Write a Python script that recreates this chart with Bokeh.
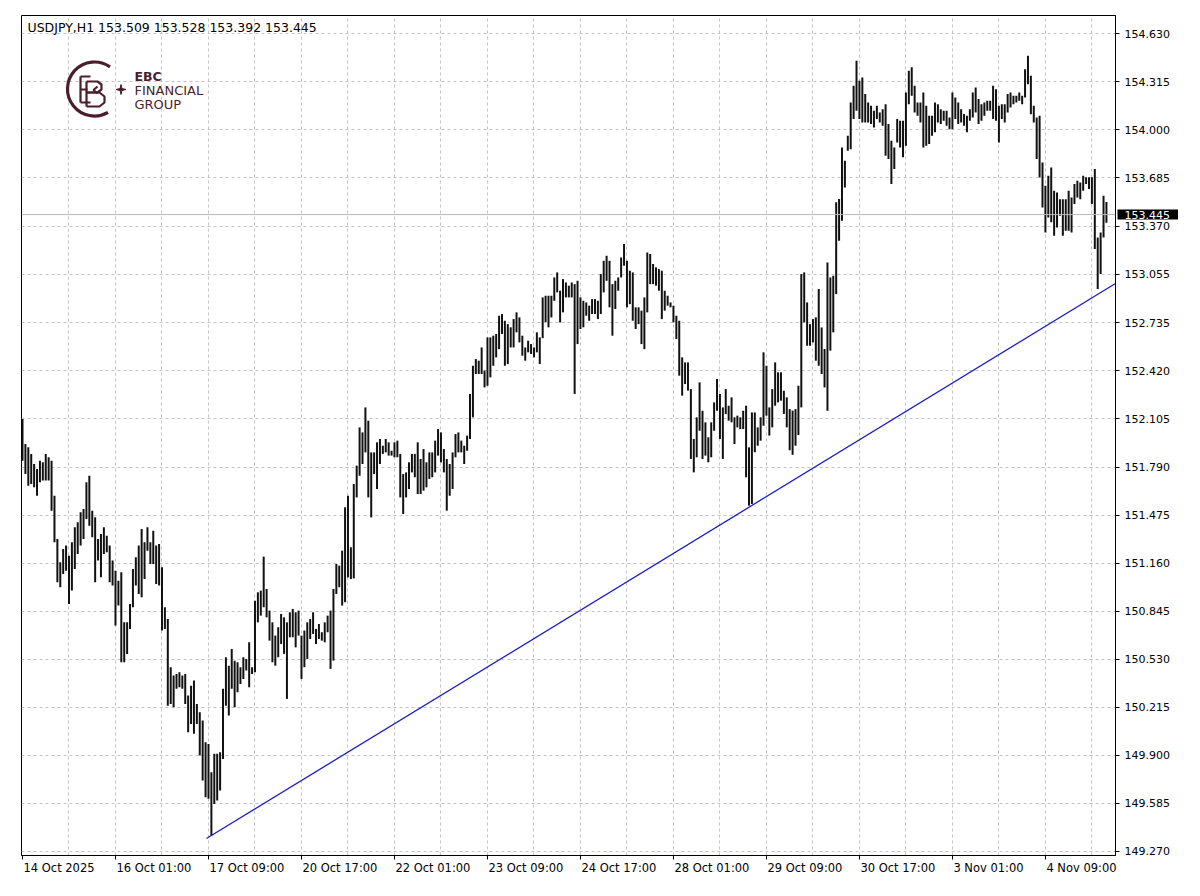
import math
from bokeh.plotting import figure
from bokeh.models import FixedTicker, Span, Range1d, ColumnDataSource, NumeralTickFormatter, LinearAxis, Label
from bokeh.embed import file_html
from bokeh.resources import INLINE
from bokeh.core.properties import value

# ---------------- data ----------------
symbol = "USDJPY,H1"
last_ohlc = [153.509, 153.528, 153.392, 153.445]
current_price = 153.445

highs = [
    152.105, 151.941, 151.919, 151.876, 151.810, 151.777, 151.832, 151.821, 151.876, 151.854,
    151.832, 151.602, 151.318, 151.166, 151.253, 151.275, 151.209, 151.297, 151.395, 151.428,
    151.493, 151.515, 151.690, 151.733, 151.504, 151.461, 151.318, 151.351, 151.395, 151.340,
    151.275, 151.177, 151.111, 151.045, 151.100, 150.772, 150.772, 150.893, 151.122, 151.198,
    151.275, 151.384, 151.297, 151.395, 151.297, 151.373, 151.275, 151.286, 151.133, 150.871,
    150.794, 150.478, 150.423, 150.434, 150.445, 150.423, 150.434, 150.292, 150.357, 150.390,
    150.237, 150.183, 150.128, 149.986, 149.975, 149.789, 149.910, 149.910, 149.921, 150.336,
    150.543, 150.488, 150.598, 150.521, 150.510, 150.477, 150.543, 150.532, 150.641, 150.477,
    150.914, 150.969, 150.980, 151.203, 150.991, 150.849, 150.772, 150.685, 150.740, 150.827,
    150.805, 150.772, 150.838, 150.860, 150.838, 150.849, 150.685, 150.718, 150.772, 150.794,
    150.838, 150.729, 150.761, 150.707, 150.772, 150.816, 150.849, 150.991, 151.155, 151.144,
    151.242, 151.526, 151.602, 151.264, 151.679, 151.799, 152.050, 152.017, 152.181, 152.094,
    151.886, 151.886, 151.952, 151.974, 151.930, 151.974, 151.952, 151.897, 151.952, 151.963,
    151.876, 151.744, 151.755, 151.821, 151.876, 151.876, 151.952, 151.843, 151.908, 151.821,
    151.886, 151.886, 151.963, 152.039, 152.017, 151.908, 151.843, 151.810, 151.886, 152.006,
    152.017, 151.963, 151.930, 151.996, 152.269, 152.454, 152.498, 152.487, 152.574, 152.422,
    152.640, 152.640, 152.651, 152.662, 152.782, 152.793, 152.749, 152.727, 152.706, 152.760,
    152.804, 152.771, 152.651, 152.574, 152.618, 152.596, 152.574, 152.673, 152.640, 152.902,
    152.913, 152.913, 152.913, 153.033, 153.066, 152.946, 153.022, 153.000, 152.979, 153.000,
    152.989, 153.011, 152.902, 152.880, 152.869, 152.848, 152.891, 152.891, 152.880, 153.055,
    153.142, 153.175, 153.142, 152.989, 153.011, 153.033, 153.164, 153.252, 153.142, 153.077,
    153.066, 152.837, 152.837, 152.815, 152.902, 153.197, 153.186, 153.121, 153.099, 153.088,
    153.077, 152.946, 152.913, 152.869, 152.848, 152.782, 152.749, 152.509, 152.476, 152.476,
    152.301, 151.974, 152.116, 152.345, 152.159, 152.083, 151.985, 152.083, 152.214, 152.367,
    152.269, 152.181, 152.301, 152.192, 152.247, 152.116, 152.127, 152.116, 152.159, 152.192,
    151.919, 152.148, 152.148, 152.050, 152.116, 152.542, 152.454, 152.181, 152.301, 152.476,
    152.411, 152.411, 152.290, 152.247, 152.170, 152.160, 152.170, 152.323, 153.055, 153.066,
    152.869, 152.727, 152.760, 152.771, 152.957, 152.705, 152.564, 153.131, 153.033, 153.044,
    153.525, 153.547, 153.885, 153.798, 153.962, 154.180, 154.289, 154.453, 154.322, 154.344,
    154.235, 154.180, 154.158, 154.125, 154.158, 154.114, 154.136, 154.169, 154.038, 153.929,
    153.885, 154.071, 154.060, 154.060, 154.246, 154.388, 154.410, 154.289, 154.180, 154.180,
    154.246, 154.158, 154.093, 154.093, 154.180, 154.169, 154.136, 154.125, 154.125, 154.082,
    154.246, 154.213, 154.180, 154.136, 154.104, 154.093, 154.136, 154.246, 154.278, 154.202,
    154.169, 154.180, 154.191, 154.191, 154.289, 154.267, 154.158, 154.169, 154.169, 154.235,
    154.246, 154.224, 154.224, 154.246, 154.224, 154.398, 154.486, 154.355, 154.158, 154.082,
    154.093, 153.787, 153.634, 153.699, 153.754, 153.601, 153.590, 153.546, 153.546, 153.546,
    153.601, 153.557, 153.645, 153.667, 153.656, 153.699, 153.689, 153.689, 153.689, 153.743,
    153.295, 153.328, 153.568, 153.528,
]

lows = [
    151.832, 151.744, 151.668, 151.679, 151.657, 151.602, 151.690, 151.701, 151.701, 151.701,
    151.504, 151.297, 151.035, 151.002, 151.089, 151.111, 150.893, 150.980, 151.122, 151.220,
    151.275, 151.318, 151.450, 151.406, 151.329, 151.035, 151.177, 151.067, 151.220, 151.231,
    151.035, 151.013, 150.751, 150.882, 150.510, 150.510, 150.565, 150.729, 150.871, 151.013,
    150.958, 150.936, 151.056, 151.242, 151.155, 151.155, 151.024, 151.013, 150.718, 150.729,
    150.226, 150.237, 150.215, 150.336, 150.346, 150.336, 150.237, 150.052, 150.106, 150.041,
    150.106, 149.899, 149.735, 149.626, 149.615, 149.374, 149.582, 149.604, 149.669, 149.877,
    150.226, 150.161, 150.336, 150.215, 150.314, 150.368, 150.401, 150.456, 150.346, 150.434,
    150.445, 150.772, 150.816, 150.871, 150.805, 150.652, 150.510, 150.488, 150.543, 150.630,
    150.565, 150.270, 150.674, 150.674, 150.608, 150.685, 150.401, 150.478, 150.532, 150.663,
    150.696, 150.630, 150.663, 150.652, 150.641, 150.707, 150.467, 150.521, 150.958, 151.002,
    150.882, 150.904, 151.067, 151.056, 151.060, 151.591, 151.733, 151.810, 151.886, 151.591,
    151.460, 151.744, 151.646, 151.810, 151.876, 151.886, 151.865, 151.865, 151.854, 151.854,
    151.591, 151.482, 151.591, 151.646, 151.755, 151.723, 151.613, 151.613, 151.635, 151.657,
    151.712, 151.723, 151.755, 151.865, 151.821, 151.755, 151.504, 151.602, 151.646, 151.854,
    151.886, 151.886, 151.810, 151.897, 151.974, 152.116, 152.400, 152.400, 152.400, 152.312,
    152.323, 152.378, 152.454, 152.509, 152.563, 152.662, 152.454, 152.465, 152.574, 152.574,
    152.673, 152.607, 152.520, 152.487, 152.542, 152.531, 152.509, 152.542, 152.465, 152.635,
    152.740, 152.706, 152.771, 152.880, 152.935, 152.738, 152.804, 152.902, 152.902, 152.902,
    152.269, 152.596, 152.695, 152.706, 152.782, 152.749, 152.793, 152.793, 152.760, 152.793,
    152.935, 153.011, 152.837, 152.651, 152.826, 152.946, 153.033, 153.110, 152.837, 152.858,
    152.749, 152.695, 152.727, 152.596, 152.563, 152.804, 152.989, 152.989, 152.979, 152.946,
    152.760, 152.815, 152.848, 152.837, 152.738, 152.629, 152.389, 152.258, 152.334, 152.291,
    151.843, 151.755, 151.854, 152.028, 151.843, 151.865, 151.821, 151.854, 152.028, 152.159,
    151.974, 151.843, 152.137, 152.094, 152.083, 151.941, 152.050, 152.039, 152.039, 151.723,
    151.537, 151.548, 151.887, 151.930, 151.963, 152.061, 152.127, 151.996, 152.050, 152.192,
    152.214, 152.225, 152.138, 152.050, 151.900, 151.870, 151.930, 152.000, 152.181, 152.738,
    152.585, 152.585, 152.607, 152.487, 152.454, 152.400, 152.312, 152.159, 152.553, 152.673,
    152.924, 153.273, 153.404, 153.623, 153.863, 153.874, 154.071, 154.125, 154.071, 154.049,
    154.049, 154.049, 154.038, 154.016, 154.071, 154.049, 154.027, 153.830, 153.809, 153.645,
    153.743, 153.918, 153.885, 153.820, 153.896, 154.169, 154.224, 154.114, 154.093, 154.049,
    153.885, 153.896, 153.907, 153.962, 153.984, 154.049, 154.038, 154.060, 154.027, 154.005,
    154.005, 154.071, 154.038, 154.049, 154.027, 153.984, 154.060, 154.082, 154.114, 154.038,
    154.060, 154.093, 154.125, 154.125, 154.071, 154.060, 153.918, 154.071, 154.049, 154.114,
    154.147, 154.169, 154.180, 154.191, 154.169, 154.213, 154.300, 154.103, 154.049, 153.809,
    153.688, 153.492, 153.328, 153.426, 153.394, 153.306, 153.361, 153.437, 153.306, 153.339,
    153.339, 153.328, 153.514, 153.557, 153.546, 153.601, 153.645, 153.612, 153.514, 153.219,
    152.957, 153.055, 153.295, 153.392,
]

x_labels = ["14 Oct 2025", "16 Oct 01:00", "17 Oct 09:00", "20 Oct 17:00", "22 Oct 01:00",
            "23 Oct 09:00", "24 Oct 17:00", "28 Oct 01:00", "29 Oct 09:00", "30 Oct 17:00",
            "3 Nov 01:00", "4 Nov 09:00"]
bars_per_label = 32

y_ticks = [149.270, 149.585, 149.900, 150.215, 150.530, 150.845, 151.160, 151.475, 151.790,
           152.105, 152.420, 152.735, 153.055, 153.370, 153.685, 154.000, 154.315, 154.630]

# trend line anchor points (bar index, price)
trend_x = [63.3, 376.1]
trend_y = [149.355, 152.993]

# ---------------- layout helpers ----------------
FRAME_L, FRAME_T, FRAME_W, FRAME_H = 21, 15, 1094, 840
BORDER_R, BORDER_B = 77, 33
X0, X1 = -0.344, 376.12
Y0, Y1 = 149.2436, 154.75
PX_PER_BAR = FRAME_W / (X1 - X0)
FONT = "DejaVu Sans"
AXIS_FS = 11
XLAB_FS = 11.5


def px(xpage):
    return X0 + (xpage - FRAME_L) / PX_PER_BAR


def py(ypage):
    return Y1 - (ypage - FRAME_T) * (Y1 - Y0) / FRAME_H


# approximate DejaVu Sans advance widths (em) for label alignment
_adv = {" ": 0.318, ":": 0.337, "O": 0.787, "c": 0.550, "t": 0.392, "N": 0.748, "o": 0.612, "v": 0.592}


def text_w(s, fs):
    return sum(_adv.get(ch, 0.636) for ch in s) * fs


idx = list(range(len(highs)))
src = ColumnDataSource(dict(i=idx, high=highs, low=lows))

p = figure(width=FRAME_L + FRAME_W + BORDER_R, height=FRAME_T + FRAME_H + BORDER_B,
           x_range=Range1d(X0, X1), y_range=Range1d(Y0, Y1),
           output_backend="svg", toolbar_location=None,
           x_axis_location="below", y_axis_location="right",
           min_border_left=FRAME_L, min_border_top=FRAME_T,
           min_border_right=BORDER_R, min_border_bottom=BORDER_B)
p.background_fill_color = "white"
p.border_fill_color = "white"
p.outline_line_color = "black"
p.outline_line_width = 1

# x axis: tick marks at label bars (labels drawn by the next axis)
label_pos = [bars_per_label * k for k in range(len(x_labels))]
xa = p.xaxis[0]
xa.ticker = FixedTicker(ticks=label_pos)
xa.major_label_overrides = {pos: "" for pos in label_pos}
xa.major_label_text_font_size = "1px"
xa.major_tick_out = 4
xa.major_tick_in = 0
xa.minor_tick_out = 0
xa.major_label_standoff = 0
xa.axis_line_color = "black"

# x axis labels, left-aligned at their tick (MT4 style)
shifted = [round(pos + (text_w(lab, XLAB_FS) / 2 + 1) / PX_PER_BAR, 2) for pos, lab in zip(label_pos, x_labels)]
xl = LinearAxis(ticker=FixedTicker(ticks=shifted),
                major_label_overrides={s: lab for s, lab in zip(shifted, x_labels)})
xl.axis_line_color = None
xl.major_tick_line_color = None
xl.minor_tick_line_color = None
xl.major_tick_out = 0
xl.major_tick_in = 0
xl.minor_tick_out = 0
xl.minor_tick_in = 0
xl.major_label_standoff = 1
xl.major_label_text_font = FONT
xl.major_label_text_font_size = f"{XLAB_FS}px"
xl.major_label_text_color = "black"
p.add_layout(xl, "below")

# y axis on the right
ya = p.yaxis[0]
ya.ticker = FixedTicker(ticks=y_ticks)
ya.formatter = NumeralTickFormatter(format="0.000")
ya.major_label_text_font = FONT
ya.major_label_text_font_size = f"{AXIS_FS}px"
ya.major_label_text_color = "black"
ya.major_tick_out = 4
ya.major_tick_in = 0
ya.minor_tick_out = 0
ya.major_label_standoff = 5
ya.axis_line_color = "black"

# grids
p.xgrid.ticker = FixedTicker(ticks=list(range(16, 377, 16)))
p.ygrid.ticker = FixedTicker(ticks=y_ticks)
for g in (p.xgrid, p.ygrid):
    g.grid_line_color = "#c3c3c3"
    g.grid_line_dash = "3 3"
    g.grid_line_width = 1

# current price line
p.add_layout(Span(location=current_price, dimension="width", line_color="#b8b8b8", line_width=1))

# bars
p.segment(x0="i", y0="low", x1="i", y1="high", source=src, line_width=2, line_color="#111111")

# trend line
p.line(trend_x, trend_y, line_color="#1c1cc8", line_width=1.3)

# current price tag on the price scale
try:
    pad = dict(left=7, right=8, top=1, bottom=1)
    tag = Label(x=X1, y=current_price, x_offset=2, text=f"{current_price:.3f}",
                text_color="white", text_font=FONT, text_font_size=f"{AXIS_FS}px",
                text_baseline="middle", text_align="left",
                background_fill_color="black", padding=pad)
except Exception:
    tag = Label(x=X1, y=current_price, x_offset=9, text=f"{current_price:.3f}",
                text_color="white", text_font=FONT, text_font_size=f"{AXIS_FS}px",
                text_baseline="middle", text_align="left",
                background_fill_color="black", padding=1)
p.add_layout(tag, "above")

# title text
title_txt = f"{symbol}  " + " ".join(f"{v:.3f}" for v in last_ohlc)
p.text(x=[px(27)], y=[py(19)], text=[title_txt], text_font=value(FONT),
       text_font_size="12.5px", text_color="black", text_baseline="top", text_align="left")

# logo
maroon = "#4b1e2b"
p.arc(x=[px(94)], y=[py(88.5)], radius=27, radius_units="screen",
      start_angle=math.radians(55), end_angle=math.radians(300),
      line_color=maroon, line_width=3.2)
mono = [
    [(80, 76), (80, 102)], [(80, 76), (90, 76)], [(80, 89), (87, 89)], [(80, 102), (90, 102)],
    [(86, 81), (86, 106)],
    [(86, 81), (97, 81), (101, 84), (101, 89), (97, 92), (86, 92)],
    [(86, 92), (99, 92), (104, 96), (104, 102), (99, 106), (86, 106)],
    [(97, 86), (93, 89.5), (97, 93)],
]
p.multi_line(xs=[[px(a) for a, b in seg] for seg in mono],
             ys=[[py(b) for a, b in seg] for seg in mono],
             line_color=maroon, line_width=2.2)
cx, cy = 120.5, 89
star_x, star_y = [], []
for k in range(8):
    ang = math.pi / 2 + k * math.pi / 4
    r = 5 if k % 2 == 0 else 1.4
    star_x.append(px(cx + r * math.cos(ang)))
    star_y.append(py(cy - r * math.sin(ang)))
p.patch(star_x, star_y, color=maroon)
p.text(x=[px(134)], y=[py(68)], text=["EBC"], text_font=value(FONT), text_font_style="bold",
       text_font_size="12.5px", text_color=maroon, text_baseline="top", text_align="left")
p.text(x=[px(134)] * 2, y=[py(82), py(96)], text=["FINANCIAL", "GROUP"],
       text_font=value(FONT), text_font_size="13px", text_color=maroon,
       text_baseline="top", text_align="left")

open("out.html", "w").write(file_html(p, INLINE))
